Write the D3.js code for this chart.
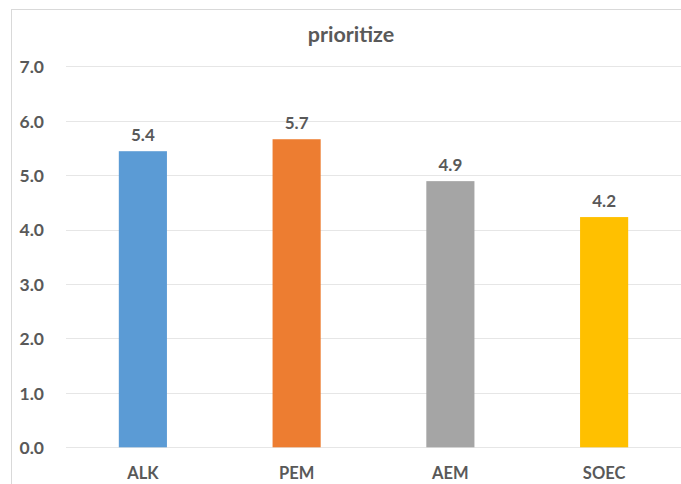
<!DOCTYPE html>
<html>
<head>
<meta charset="utf-8">
<script src="https://cdn.jsdelivr.net/npm/d3@7"></script>
<style>
  html, body { margin: 0; padding: 0; background: #fff; }
  svg { display: block; }
  text { font-family: Lato, "Open Sans", sans-serif; font-weight: bold; fill: #595959; }
</style>
</head>
<body>
<svg id="chart" width="681" height="484"></svg>
<script>
// Chart data
const categories = ["ALK", "PEM", "AEM", "SOEC"];
const values = [5.44, 5.66, 4.89, 4.23];
const colors = ["#5B9BD5", "#ED7D31", "#A5A5A5", "#FFC000"];
const yTicks = [0, 1, 2, 3, 4, 5, 6, 7];
const title = "prioritize";

const svg = d3.select("#chart");
const plot = { left: 66, right: 681, top: 66.3, bottom: 447.3 };

// Outer chart frame
svg.append("rect")
  .attr("x", 11.5).attr("y", 9.5)
  .attr("width", 690).attr("height", 500)
  .attr("fill", "none").attr("stroke", "#D9D9D9").attr("stroke-width", 1);

const x = d3.scaleBand()
  .domain(categories)
  .range([plot.left, plot.right])
  .paddingInner(0.687).paddingOuter(0.3435);

const y = d3.scaleLinear().domain([0, 7]).range([plot.bottom, plot.top]);

// Horizontal gridlines
svg.append("g")
  .selectAll("line")
  .data(yTicks)
  .join("line")
  .attr("x1", plot.left).attr("x2", plot.right)
  .attr("y1", d => Math.round(y(d)) + 0.5).attr("y2", d => Math.round(y(d)) + 0.5)
  .attr("stroke", "#E6E6E6").attr("stroke-width", 1);

// Y axis labels
const yAxis = d3.axisLeft(y).tickValues(yTicks).tickFormat(d3.format(".1f")).tickSize(0).tickPadding(0);
const gy = svg.append("g").attr("transform", `translate(44,0)`).call(yAxis);
gy.select(".domain").remove();
gy.selectAll("text").attr("font-size", 17.5).attr("dy", "0.36em")
  .style("font-family", "Lato, sans-serif").style("font-weight", "bold").attr("fill", "#595959");

// Bars
svg.append("g")
  .selectAll("rect")
  .data(categories)
  .join("rect")
  .attr("x", d => x(d))
  .attr("y", (d, i) => y(values[i]))
  .attr("width", x.bandwidth())
  .attr("height", (d, i) => y(0) - y(values[i]))
  .attr("fill", (d, i) => colors[i]);

// Value labels
svg.append("g")
  .selectAll("text")
  .data(categories)
  .join("text")
  .attr("x", d => x(d) + x.bandwidth() / 2)
  .attr("y", (d, i) => y(values[i]) - 10)
  .attr("text-anchor", "middle")
  .attr("font-size", 17)
  .text((d, i) => d3.format(".1f")(values[i]));

// X axis labels
const xAxis = d3.axisBottom(x).tickSize(0).tickPadding(0);
const gx = svg.append("g").attr("transform", `translate(0,${plot.bottom + 32})`).call(xAxis);
gx.select(".domain").remove();
gx.selectAll("text").attr("font-size", 16.5).attr("dy", "0")
  .style("font-family", "Lato, sans-serif").style("font-weight", "bold").attr("fill", "#595959");

// Title
svg.append("text")
  .attr("x", 351).attr("y", 41.5)
  .attr("text-anchor", "middle")
  .attr("font-size", 21.5)
  .text(title);
</script>
</body>
</html>
